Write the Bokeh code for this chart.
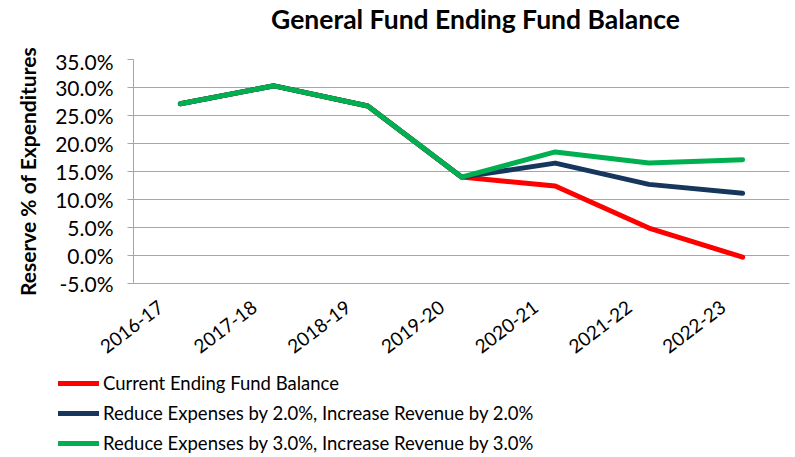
from bokeh.plotting import figure
from bokeh.layouts import column
from bokeh.models import NumeralTickFormatter, Legend, LegendItem, Range1d, FixedTicker, Label
from bokeh.embed import file_html
from bokeh.resources import INLINE

years = ["2016-17", "2017-18", "2018-19", "2019-20", "2020-21", "2021-22", "2022-23"]
current = [0.271, 0.303, 0.267, 0.140, 0.124, 0.049, -0.003]
reduce2 = [0.271, 0.303, 0.267, 0.140, 0.165, 0.127, 0.111]
reduce3 = [0.271, 0.303, 0.267, 0.140, 0.185, 0.165, 0.171]
series_labels = [
    "Current Ending Fund Balance",
    "Reduce Expenses by 2.0%, Increase Revenue by 2.0%",
    "Reduce Expenses by 3.0%, Increase Revenue by 3.0%",
]
series_colors = ["#FF0000", "#17365D", "#00B050"]
y_ticks = [-0.05, 0.0, 0.05, 0.10, 0.15, 0.20, 0.25, 0.30, 0.35]
title_text = "General Fund Ending Fund Balance"

FONT = "Lato"
GRID = "#A6A6A6"

n = len(years)
# category slots: each year occupies one unit, its centre at index + 0.5
xpos = [i + 0.5 for i in range(n)]

# ---- title strip ----
p0 = figure(width=795, height=48, output_backend="svg", toolbar_location=None,
            min_border=0, x_axis_type=None, y_axis_type=None)
p0.outline_line_color = None
p0.add_layout(Label(x=475, y=30, x_units="screen", y_units="screen", text=title_text,
                    text_align="center", text_baseline="alphabetic", text_font=FONT,
                    text_font_size="26.5px", text_font_style="bold", text_color="black"))

# ---- main chart ----
p = figure(
    x_range=Range1d(0, n), y_range=Range1d(-0.05, 0.35),
    width=795, height=315, output_backend="svg", toolbar_location=None,
    min_border_left=133, min_border_right=6, min_border_top=11, min_border_bottom=80,
)
p.outline_line_color = None
p.background_fill_color = "white"
p.border_fill_color = "white"

renderers = []
for vals, col in zip([current, reduce2, reduce3], series_colors):
    r = p.line(xpos, vals, line_color=col, line_width=5, line_cap="round", line_join="round")
    renderers.append(r)

p.yaxis.ticker = FixedTicker(ticks=y_ticks)
p.yaxis.formatter = NumeralTickFormatter(format="0.0%")
p.yaxis.axis_label = "Reserve % of Expenditures"
p.yaxis.axis_label_text_font = FONT
p.yaxis.axis_label_text_font_style = "bold"
p.yaxis.axis_label_text_font_size = "21px"
p.yaxis.axis_label_text_color = "black"
p.yaxis.axis_label_standoff = 12
p.yaxis.major_label_text_font = FONT
p.yaxis.major_label_text_font_size = "21px"
p.yaxis.major_label_text_color = "black"
p.yaxis.major_label_standoff = 14
p.yaxis.major_tick_out = 6
p.yaxis.major_tick_in = 0
p.yaxis.minor_tick_line_color = None
p.yaxis.axis_line_color = GRID
p.yaxis.major_tick_line_color = GRID

# rotated year labels end a little left of each category centre (as in the reference)
shift = 0.21
label_ticks = [round(x - shift, 3) for x in xpos]
p.xaxis.ticker = FixedTicker(ticks=label_ticks)
p.xaxis.major_label_overrides = {t: y for t, y in zip(label_ticks, years)}
p.xaxis.major_label_orientation = 0.65
p.xaxis.major_label_text_font = FONT
p.xaxis.major_label_text_font_size = "19px"
p.xaxis.major_label_text_color = "black"
p.xaxis.major_label_standoff = 21
p.xaxis.major_tick_out = 0
p.xaxis.major_tick_in = 0
p.xaxis.minor_tick_line_color = None
p.xaxis.axis_line_color = GRID

p.xgrid.grid_line_color = None
p.ygrid.grid_line_color = GRID
p.ygrid.grid_line_width = 1.2

# ---- legend strip ----
p2 = figure(
    x_range=Range1d(0, n), y_range=Range1d(-0.05, 0.35),
    width=795, height=94, output_backend="svg", toolbar_location=None,
    min_border=0, x_axis_type=None, y_axis_type=None,
)
p2.outline_line_color = None
leg_renderers = []
for vals, col in zip([current, reduce2, reduce3], series_colors):
    r = p2.line(xpos, vals, line_color=col, line_width=5, line_cap="round")
    r.visible = False
    leg_renderers.append(r)

items = [LegendItem(label=lab, renderers=[r]) for lab, r in zip(series_labels, leg_renderers)]
legend = Legend(items=items, location=(58, -1))
legend.border_line_color = None
legend.background_fill_alpha = 0
legend.padding = 0
legend.margin = 0
legend.spacing = 0
legend.glyph_width = 41
legend.glyph_height = 30
legend.label_height = 30
legend.label_standoff = 4
legend.label_text_font = FONT
legend.label_text_font_size = "18.5px"
legend.label_text_color = "black"
p2.add_layout(legend)

for f in (p0, p, p2):
    if "frame_align" in f.properties():
        f.frame_align = False

layout = column(p0, p, p2, spacing=0)
open("out.html", "w").write(file_html(layout, INLINE))
